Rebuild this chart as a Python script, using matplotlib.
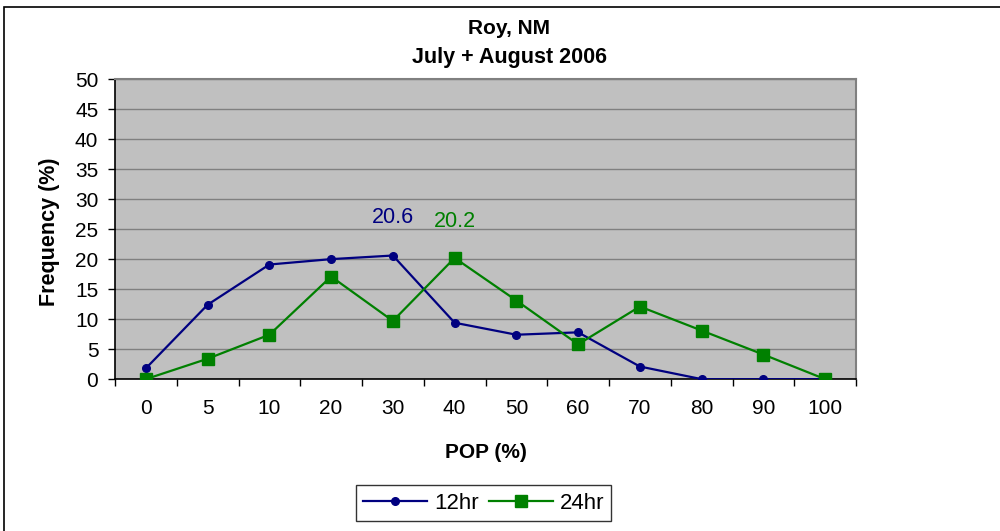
import numpy as np
import matplotlib
matplotlib.use('Agg')
from matplotlib import pyplot as plt
from matplotlib.patches import Rectangle

plt.rcParams['font.family'] = ['Liberation Sans', 'DejaVu Sans']

categories = ['0', '5', '10', '20', '30', '40', '50', '60', '70', '80', '90', '100']
pop12 = [1.8, 12.4, 19.1, 20.0, 20.6, 9.4, 7.4, 7.8, 2.1, 0.0, 0.0, 0.0]
pop24 = [0.0, 3.4, 7.4, 17.1, 9.7, 20.2, 13.1, 5.8, 12.1, 8.1, 4.1, 0.0]
navy = '#000080'
green = '#008000'

fig = plt.figure(figsize=(10, 5.31), dpi=100)
ax = fig.add_axes([0.115, 0.286, 0.741, 0.565])
ax.set_facecolor('#C0C0C0')

x = np.arange(len(categories))
ax.plot(x, pop12, color=navy, lw=1.6, marker='o', ms=5.5, label='12hr', zorder=3)
ax.plot(x, pop24, color=green, lw=1.6, marker='s', ms=8.5, label='24hr', zorder=3)

# peak labels
i12 = int(np.argmax(pop12))
i24 = int(np.argmax(pop24))
ax.annotate('%.1f' % pop12[i12], (x[i12], pop12[i12]), xytext=(0, 27.5), textcoords='offset points',
            ha='center', va='center', color=navy, fontsize=15.5)
ax.annotate('%.1f' % pop24[i24], (x[i24], pop24[i24]), xytext=(0, 26), textcoords='offset points',
            ha='center', va='center', color=green, fontsize=15.5)

ax.set_xlim(-0.5, len(categories) - 0.5)
ax.set_ylim(0, 50)
ax.set_yticks(np.arange(0, 51, 5))
ax.set_xticks(x)
ax.set_xticklabels(categories)
ax.set_xticks(np.arange(-0.5, len(categories), 1), minor=True)
ax.tick_params(axis='x', which='major', length=0, labelsize=15, pad=14)
ax.tick_params(axis='x', which='minor', length=5, direction='out', width=1)
ax.tick_params(axis='y', length=5, direction='out', labelsize=15, width=1, pad=7)
ax.yaxis.grid(True, color='#808080', lw=1)
ax.set_axisbelow(True)
for s in ['top', 'right']:
    ax.spines[s].set_color('#808080')
    ax.spines[s].set_linewidth(1.5)
for s in ['left', 'bottom']:
    ax.spines[s].set_color('black')
    ax.spines[s].set_linewidth(1.2)

ax.set_xlabel('POP (%)', fontsize=15, fontweight='bold', va='center')
ax.xaxis.set_label_coords(0.5, -0.243)
ax.set_ylabel('Frequency (%)', fontsize=15.5, fontweight='bold', va='center')
ax.yaxis.set_label_coords(-0.088, 0.49)

fig.text(0.509, 1 - 28 / 531, 'Roy, NM', ha='center', va='center', fontsize=15, fontweight='bold')
fig.text(0.51, 1 - 57 / 531, 'July + August 2006', ha='center', va='center', fontsize=15.5,
         fontweight='bold')

leg = fig.legend(loc='center', bbox_to_anchor=(0.4835, 0.0527), ncol=2, fontsize=16,
                 frameon=True, fancybox=False, edgecolor='black', handlelength=2.9,
                 columnspacing=0.45, handletextpad=0.3, borderpad=0.32)
leg.get_frame().set_linewidth(1)

fig.patches.append(Rectangle((0.004, -0.1), 1.2, 1.087, transform=fig.transFigure,
                             fill=False, edgecolor='black', lw=1.2))

fig.savefig('out.png', dpi=100)
